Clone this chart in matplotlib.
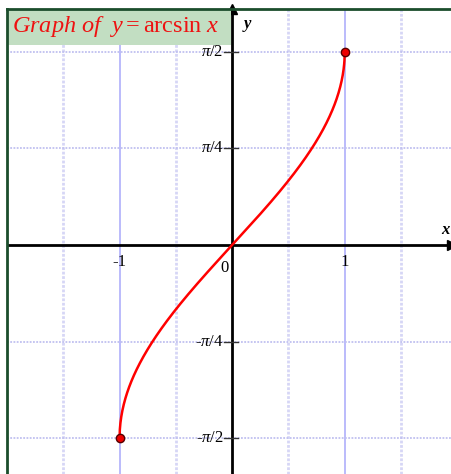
import numpy as np
import matplotlib
matplotlib.use("Agg")
import matplotlib.pyplot as plt
from matplotlib.lines import Line2D
from matplotlib.patches import Rectangle

plt.rcParams['font.family'] = ['Liberation Serif', 'DejaVu Serif']
plt.rcParams['mathtext.fontset'] = 'custom'
plt.rcParams['mathtext.rm'] = 'Liberation Serif'
plt.rcParams['mathtext.it'] = 'Liberation Serif:italic'

# curve samples and the two end points of y = arcsin x
xs = np.linspace(-1, 1, 801)
ys = np.arcsin(xs)
end_x = [-1, 1]
end_y = [-np.pi / 2, np.pi / 2]

# ticks and grid
x_ticks = [-1, 1]
x_tick_labels = ['-1', '1']
y_ticks = [-np.pi / 2, -np.pi / 4, np.pi / 4, np.pi / 2]
y_tick_labels = [r'-$\pi$/2', r'-$\pi$/4', r'$\pi$/4', r'$\pi$/2']
x_grid_major = [-1, 1]
x_grid_minor = [-1.5, -0.5, 0.5, 1.5]
y_grid = [-np.pi / 2, -np.pi / 4, np.pi / 4, np.pi / 2]

fig = plt.figure(figsize=(4.52, 4.74), dpi=100)
ax = fig.add_axes([7 / 452, 0, 445 / 452, 465 / 474])
ax.set_xlim(-2.0, 1.953)
ax.set_ylim(-1.863, 1.92)

for s in ax.spines.values():
    s.set_visible(False)

# grid
for gx in x_grid_minor:
    ax.axvline(gx, color='#d6d6f6', lw=2, ls=(0, (1, 0.6)), zorder=1)
for gx in x_grid_major:
    ax.axvline(gx, color='#a8a8fa', lw=1.1, zorder=1)
for gy in y_grid:
    ax.axhline(gy, color='#c0c0f0', lw=1.3, ls=(0, (1, 0.8)), zorder=1)

# axes through the origin
ax.axhline(0, color='black', lw=2, zorder=3)
ax.axvline(0, color='black', lw=2, zorder=3)
ax.plot([ax.get_xlim()[1]], [0], marker='>', color='black', ms=7,
        clip_on=False, zorder=4)
ax.plot([0], [ax.get_ylim()[1]], marker='^', color='black', ms=7,
        clip_on=False, zorder=4)

# tick marks on the y axis and labels
ax.set_xticks([])
ax.set_yticks([])
for v, lab in zip(y_ticks, y_tick_labels):
    ax.plot([-0.07, 0.05], [v, v], color='#333333', lw=1, zorder=3)
    ax.text(-0.075, v, lab, ha='right', va='center', fontsize=12)
for v, lab in zip(x_ticks, x_tick_labels):
    ax.text(v, -0.07, lab, ha='center', va='top', fontsize=12)
ax.text(-0.035, -0.12, '0', ha='right', va='top', fontsize=12)

ax.text(1.93, 0.06, 'x', ha='right', va='bottom', fontsize=12,
        style='italic', weight='bold')
ax.text(0.1, 1.86, 'y', ha='left', va='top', fontsize=12,
        style='italic', weight='bold')

# the curve
ax.plot(xs, ys, color='#ff0000', lw=1.8, zorder=5)
ax.plot(end_x, end_y, 'o', ms=6, mfc='#ee0000', mec='#550000', mew=1,
        zorder=6, clip_on=False)

# title box
ax.add_patch(Rectangle((0, 0.923), 0.503, 0.077, transform=ax.transAxes,
                       facecolor='#c2dec2', edgecolor='none', zorder=6))
ax.text(0.011, 0.9505, r'$Graph\ of\ \ y = \mathrm{arcsin}\ x$',
        transform=ax.transAxes, ha='left', va='baseline', fontsize=17.5,
        color='#ee1111', zorder=7)

# dark green frame on left and top
fig.add_artist(Line2D([7 / 452, 7 / 452], [0, 465 / 474], color='#1b4d2c', lw=2))
fig.add_artist(Line2D([7 / 452, 1], [465 / 474, 465 / 474], color='#1b4d2c', lw=2))

fig.savefig('out.png', dpi=100)
